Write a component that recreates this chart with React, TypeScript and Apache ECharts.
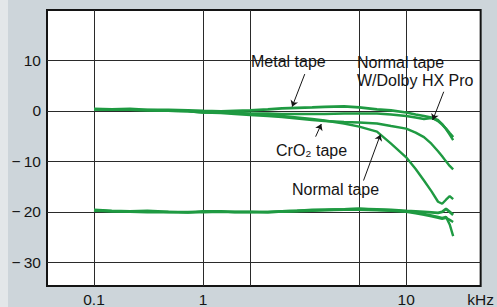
import React, { useEffect, useRef } from "react";
import * as echarts from "echarts";

// Frequencies in kHz (shared by all curves)
const FREQS = [0.1, 0.13, 0.17, 0.22, 0.3, 0.4, 0.5, 0.65, 0.8, 1, 1.3, 1.6, 2, 2.5, 3, 4, 5, 6.5, 8, 10, 11.5, 13, 14.5, 16, 17, 18, 19, 20];

// Upper group (0 dB recording level)
const METAL_DB = [0.4, 0.3, 0.4, 0.2, 0.2, 0.1, 0.0, -0.1, 0.0, 0.1, 0.3, 0.5, 0.6, 0.7, 0.8, 0.9, 0.7, 0.3, 0.1, -0.3, -0.7, -1.0, -1.3, -2.0, -2.7, -3.5, -4.4, -5.2];
const HXPRO_DB = [0.3, 0.2, 0.2, 0.1, 0.0, -0.1, -0.3, -0.3, -0.4, -0.5, -0.5, -0.6, -0.6, -0.6, -0.6, -0.5, -0.5, -0.5, -0.7, -1.0, -1.3, -1.6, -1.4, -1.8, -2.6, -3.6, -4.7, -5.8];
const CRO2_DB = [0.3, 0.2, 0.2, 0.1, 0.0, -0.1, -0.3, -0.4, -0.6, -0.8, -1.0, -1.2, -1.5, -1.8, -2.0, -2.2, -2.3, -2.5, -3.0, -3.5, -4.3, -5.2, -6.5, -8.0, -9.0, -10.0, -10.9, -11.6];
const NORMAL_DB = [0.3, 0.3, 0.2, 0.2, 0.1, 0.0, -0.2, -0.3, -0.4, -0.6, -0.8, -1.0, -1.3, -1.6, -1.9, -2.5, -3.1, -4.1, -6.5, -9.2, -11.5, -13.8, -15.9, -18.0, -18.4, -17.6, -16.9, -17.5];

// Lower group (-20 dB recording level)
const LOW_A_DB = [-19.6, -19.8, -19.9, -19.8, -20.0, -20.1, -19.9, -19.9, -20.0, -20.0, -20.1, -19.9, -19.8, -19.6, -19.6, -19.5, -19.4, -19.5, -19.6, -19.8, -19.9, -20.0, -20.1, -20.2, -20.0, -19.4, -20.0, -20.6];
const LOW_B_DB = [-19.8, -19.9, -20.0, -20.1, -20.1, -20.0, -20.1, -20.0, -20.1, -20.1, -20.0, -20.0, -19.9, -19.8, -19.7, -19.6, -19.6, -19.7, -19.8, -20.0, -20.3, -20.6, -20.9, -21.2, -21.4, -21.2, -21.6, -22.0];
const LOW_C_DB = [-19.7, -19.9, -19.9, -20.0, -20.0, -20.1, -20.0, -20.0, -20.0, -20.0, -20.0, -19.9, -19.8, -19.7, -19.6, -19.5, -19.4, -19.6, -19.7, -19.9, -20.1, -20.4, -20.7, -21.0, -21.2, -21.0, -22.5, -24.8];

// Axes
const X_MIN_KHZ = 0.05;
const X_MAX_KHZ = 30;
const X_GRID_KHZ = [0.1, 0.5, 1, 5, 10];
const X_LABEL_KHZ = [0.1, 0.5, 10, 30];
const X_LABELS = ["0.1", "1", "10", "kHz"];
const Y_MIN = -34.7;
const Y_MAX = 20;
const Y_TICKS = [-30, -20, -10, 0, 10];

// Annotations: text, arrow start [kHz, dB], arrow tip [kHz, dB]
const ARROW_FROM: [number, number][] = [[2.24, 7.3], [17.4, 3.8], [2.63, -5.1], [5.33, -13.8]];
const ARROW_TO: [number, number][] = [[1.86, 0.85], [14.8, -1.8], [2.86, -2.6], [6.84, -4.7]];

const GREEN = "#1f9a42";

export default function App() {
  const ref = useRef<HTMLDivElement>(null);

  useEffect(() => {
    if (!ref.current) return;
    const chart = echarts.init(ref.current, null, { renderer: "svg" });
    const lg = (v: number) => Math.log10(v);
    const mk = (name: string, arr: number[], width: number) => ({
      name,
      type: "line",
      data: FREQS.map((f, i) => [lg(f), arr[i]]),
      symbol: "none",
      smooth: false,
      lineStyle: { color: GREEN, width },
      itemStyle: { color: GREEN },
      z: 3,
    });
    const labelPos = X_LABEL_KHZ.map(lg);
    const font = "'Liberation Sans', Arial, Helvetica, sans-serif";
    const series: any[] = [
      mk("Metal tape", METAL_DB, 2.6),
      mk("Normal tape W/Dolby HX Pro", HXPRO_DB, 2.4),
      mk("CrO2 tape", CRO2_DB, 2.4),
      mk("Normal tape", NORMAL_DB, 2.4),
      mk("-20 A", LOW_A_DB, 2.8),
      mk("-20 B", LOW_B_DB, 2.4),
      mk("-20 C", LOW_C_DB, 2.4),
    ];
    series.push({
      name: "arrows",
      type: "line",
      data: [],
      symbol: "none",
      markLine: {
        silent: true,
        symbol: ["none", "arrow"],
        symbolSize: 6,
        label: { show: false },
        lineStyle: { color: "#151515", width: 1, type: "solid" },
        data: ARROW_FROM.map((a, i) => [
          { coord: [lg(a[0]), a[1]] },
          { coord: [lg(ARROW_TO[i][0]), ARROW_TO[i][1]] },
        ]),
      },
    });

    const txt = (x: number, y: number, text: string) => ({
      type: "text",
      x,
      y,
      style: {
        text,
        fill: "#151515",
        font: `16px ${font}`,
        textVerticalAlign: "middle",
        textAlign: "left",
      },
      z: 10,
    });

    chart.setOption({
      animation: false,
      backgroundColor: "#cdd5da",
      grid: {
        left: 47,
        top: 10,
        right: 12,
        bottom: 20,
        show: true,
        backgroundColor: "#ffffff",
        borderColor: "#141414",
        borderWidth: 2,
      },
      xAxis: {
        type: "value",
        min: lg(X_MIN_KHZ),
        max: lg(X_MAX_KHZ),
        axisLine: { show: false },
        axisTick: { show: false, customValues: X_GRID_KHZ.map(lg) },
        splitLine: { show: true, lineStyle: { color: "#2a2a2a", width: 1 } },
        axisLabel: {
          customValues: labelPos,
          color: "#151515",
          fontSize: 15.5,
          fontFamily: font,
          margin: 5,
          formatter: (v: number) => {
            const i = labelPos.findIndex((p) => Math.abs(p - v) < 1e-6);
            return i >= 0 ? X_LABELS[i] : "";
          },
        },
      },
      yAxis: {
        type: "value",
        min: Y_MIN,
        max: Y_MAX,
        axisLine: { show: false },
        axisTick: { show: false, customValues: Y_TICKS },
        splitLine: { show: true, lineStyle: { color: "#2a2a2a", width: 1 } },
        axisLabel: {
          customValues: Y_TICKS,
          color: "#151515",
          fontSize: 15.5,
          fontFamily: font,
          margin: 6,
          formatter: (v: number) => (v < 0 ? "\u2212\u2009" + Math.abs(v) : String(v)),
        },
      },
      graphic: [
        { type: "rect", shape: { x: 0, y: 0, width: 8, height: 307 }, style: { fill: "#e3e7e9" }, z: 0 },
        txt(251, 61, "Metal tape"),
        txt(357, 62, "Normal tape"),
        txt(357, 80.5, "W/Dolby HX Pro"),
        txt(276, 150, "CrO\u2082 tape"),
        txt(292, 189, "Normal tape"),
      ],
      series,
    });
    return () => chart.dispose();
  }, []);

  return (
    <div
      ref={ref}
      style={{ position: "fixed", left: 0, top: 0, width: 497, height: 307 }}
    />
  );
}
